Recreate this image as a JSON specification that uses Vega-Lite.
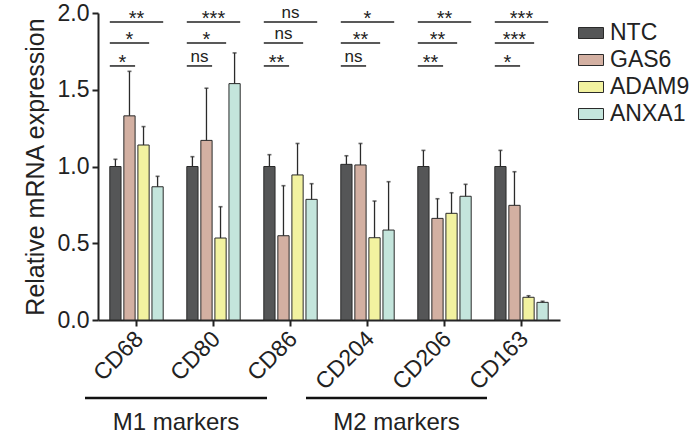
{
  "$schema": "https://vega.github.io/schema/vega-lite/v6.json",
  "autosize": "none",
  "width": 462,
  "height": 307,
  "padding": {"left": 98, "top": 13, "right": 131, "bottom": 121},
  "background": "white",
  "config": {
    "view": {"stroke": null},
    "font": "Liberation Sans",
    "axis": {"grid": false, "domainColor": "#222", "tickColor": "#222", "labelColor": "#222", "titleColor": "#222", "labelFont": "Liberation Sans", "titleFont": "Liberation Sans", "titleFontWeight": "normal"},
    "legend": {"labelFont": "Liberation Sans"}
  },
  "datasets": {
    "bars": [
      {"marker": "CD68", "group": "NTC", "mean": 1.0, "upper": 1.047},
      {"marker": "CD68", "group": "GAS6", "mean": 1.33, "upper": 1.62},
      {"marker": "CD68", "group": "ADAM9", "mean": 1.14, "upper": 1.26},
      {"marker": "CD68", "group": "ANXA1", "mean": 0.868, "upper": 0.936},
      {"marker": "CD80", "group": "NTC", "mean": 1.0, "upper": 1.064},
      {"marker": "CD80", "group": "GAS6", "mean": 1.17, "upper": 1.51},
      {"marker": "CD80", "group": "ADAM9", "mean": 0.534, "upper": 0.738},
      {"marker": "CD80", "group": "ANXA1", "mean": 1.54, "upper": 1.74},
      {"marker": "CD86", "group": "NTC", "mean": 1.0, "upper": 1.077},
      {"marker": "CD86", "group": "GAS6", "mean": 0.549, "upper": 0.875},
      {"marker": "CD86", "group": "ADAM9", "mean": 0.945, "upper": 1.15},
      {"marker": "CD86", "group": "ANXA1", "mean": 0.786, "upper": 0.888},
      {"marker": "CD204", "group": "NTC", "mean": 1.014, "upper": 1.07},
      {"marker": "CD204", "group": "GAS6", "mean": 1.01, "upper": 1.15},
      {"marker": "CD204", "group": "ADAM9", "mean": 0.536, "upper": 0.775},
      {"marker": "CD204", "group": "ANXA1", "mean": 0.586, "upper": 0.901},
      {"marker": "CD206", "group": "NTC", "mean": 1.0, "upper": 1.105},
      {"marker": "CD206", "group": "GAS6", "mean": 0.662, "upper": 0.79},
      {"marker": "CD206", "group": "ADAM9", "mean": 0.695, "upper": 0.829},
      {"marker": "CD206", "group": "ANXA1", "mean": 0.806, "upper": 0.884},
      {"marker": "CD163", "group": "NTC", "mean": 1.0, "upper": 1.105},
      {"marker": "CD163", "group": "GAS6", "mean": 0.747, "upper": 0.966},
      {"marker": "CD163", "group": "ADAM9", "mean": 0.148, "upper": 0.158},
      {"marker": "CD163", "group": "ANXA1", "mean": 0.115, "upper": 0.122}
    ],
    "sig": [
      {"marker": "CD68", "vs": "ANXA1", "label": "**"},
      {"marker": "CD68", "vs": "ADAM9", "label": "*"},
      {"marker": "CD68", "vs": "GAS6", "label": "*"},
      {"marker": "CD80", "vs": "ANXA1", "label": "***"},
      {"marker": "CD80", "vs": "ADAM9", "label": "*"},
      {"marker": "CD80", "vs": "GAS6", "label": "ns"},
      {"marker": "CD86", "vs": "ANXA1", "label": "ns"},
      {"marker": "CD86", "vs": "ADAM9", "label": "ns"},
      {"marker": "CD86", "vs": "GAS6", "label": "**"},
      {"marker": "CD204", "vs": "ANXA1", "label": "*"},
      {"marker": "CD204", "vs": "ADAM9", "label": "**"},
      {"marker": "CD204", "vs": "GAS6", "label": "ns"},
      {"marker": "CD206", "vs": "ANXA1", "label": "**"},
      {"marker": "CD206", "vs": "ADAM9", "label": "**"},
      {"marker": "CD206", "vs": "GAS6", "label": "**"},
      {"marker": "CD163", "vs": "ANXA1", "label": "***"},
      {"marker": "CD163", "vs": "ADAM9", "label": "***"},
      {"marker": "CD163", "vs": "GAS6", "label": "*"}
    ],
    "groups": [
      {"name": "M1 markers", "from": "CD68", "to": "CD86"},
      {"name": "M2 markers", "from": "CD204", "to": "CD206"}
    ]
  },
  "encoding": {
    "x": {
      "field": "marker", "type": "nominal", "sort": ["CD68", "CD80", "CD86", "CD204", "CD206", "CD163"],
      "scale": {"domain": ["CD68", "CD80", "CD86", "CD204", "CD206", "CD163"], "paddingInner": 0.27, "paddingOuter": 0.135},
      "axis": {"title": null, "labelAngle": -45, "labelAlign": "right", "labelBaseline": "middle", "labelFontSize": 23, "labelPadding": 9, "labelOffset": 3, "tickSize": 6, "tickWidth": 2, "domainWidth": 2}
    }
  },
  "layer": [
    {
      "data": {"name": "bars"},
      "mark": {"type": "bar", "stroke": "#2a2a2a", "strokeWidth": 1},
      "encoding": {
        "xOffset": {"field": "group", "type": "nominal", "sort": ["NTC", "GAS6", "ADAM9", "ANXA1"], "scale": {"domain": ["NTC", "GAS6", "ADAM9", "ANXA1"], "paddingInner": 0.2, "paddingOuter": 0.1}},
        "y": {"field": "mean", "type": "quantitative", "scale": {"domain": [0, 2], "nice": false},
          "axis": {"title": "Relative mRNA expression", "titleFontSize": 25, "titlePadding": 9, "values": [0, 0.5, 1, 1.5, 2], "format": ".1f", "labelFontSize": 23, "labelPadding": 3, "tickSize": 6, "tickWidth": 2, "domainWidth": 2}},
        "fill": {"field": "group", "type": "nominal", "sort": ["NTC", "GAS6", "ADAM9", "ANXA1"],
          "scale": {"domain": ["NTC", "GAS6", "ADAM9", "ANXA1"], "range": ["#555657", "#d3b0a2", "#f2f2a0", "#c4e5dc"]},
          "legend": {"title": null, "orient": "none", "legendX": 480, "legendY": 7, "padding": 0, "labelFontSize": 23, "labelColor": "#222", "labelOffset": 6, "rowPadding": 2, "symbolType": "M-1,-0.44H1V0.44H-1Z", "symbolSize": 625, "symbolStrokeColor": "#2a2a2a", "symbolStrokeWidth": 1}}
      }
    },
    {
      "data": {"name": "bars"},
      "mark": {"type": "rule", "stroke": "#2a2a2a", "strokeWidth": 1.3},
      "encoding": {
        "xOffset": {"field": "group", "type": "nominal", "sort": ["NTC", "GAS6", "ADAM9", "ANXA1"]},
        "y": {"field": "mean", "type": "quantitative"},
        "y2": {"field": "upper"}
      }
    },
    {
      "data": {"name": "bars"},
      "mark": {"type": "tick", "color": "#2a2a2a", "size": 4, "thickness": 1.6, "orient": "horizontal"},
      "encoding": {
        "xOffset": {"field": "group", "type": "nominal", "sort": ["NTC", "GAS6", "ADAM9", "ANXA1"]},
        "y": {"field": "upper", "type": "quantitative"}
      }
    },
    {
      "data": {"name": "sig"},
      "transform": [{"filter": "datum.vs === 'ANXA1'"}],
      "layer": [
        {"mark": {"type": "rule", "stroke": "#222", "strokeWidth": 1.5},
         "encoding": {"x": {"field": "marker", "type": "nominal", "bandPosition": 0.025}, "x2": {"field": "marker", "bandPosition": 0.975}, "y": {"datum": 1.941}}},
        {"transform": [{"filter": "datum.label === 'ns'"}],
         "mark": {"type": "text", "fontSize": 17, "color": "#222", "baseline": "alphabetic", "dy": -4},
         "encoding": {"x": {"field": "marker", "type": "nominal", "bandPosition": 0.5}, "y": {"datum": 1.941}, "text": {"field": "label"}}},
        {"transform": [{"filter": "datum.label !== 'ns'"}],
         "mark": {"type": "text", "fontSize": 20, "color": "#222", "baseline": "alphabetic", "dy": 3},
         "encoding": {"x": {"field": "marker", "type": "nominal", "bandPosition": 0.5}, "y": {"datum": 1.941}, "text": {"field": "label"}}}
      ]
    },
    {
      "data": {"name": "sig"},
      "transform": [{"filter": "datum.vs === 'ADAM9'"}],
      "layer": [
        {"mark": {"type": "rule", "stroke": "#222", "strokeWidth": 1.5},
         "encoding": {"x": {"field": "marker", "type": "nominal", "bandPosition": 0.025}, "x2": {"field": "marker", "bandPosition": 0.725}, "y": {"datum": 1.805}}},
        {"transform": [{"filter": "datum.label === 'ns'"}],
         "mark": {"type": "text", "fontSize": 17, "color": "#222", "baseline": "alphabetic", "dy": -4},
         "encoding": {"x": {"field": "marker", "type": "nominal", "bandPosition": 0.375}, "y": {"datum": 1.805}, "text": {"field": "label"}}},
        {"transform": [{"filter": "datum.label !== 'ns'"}],
         "mark": {"type": "text", "fontSize": 20, "color": "#222", "baseline": "alphabetic", "dy": 3},
         "encoding": {"x": {"field": "marker", "type": "nominal", "bandPosition": 0.375}, "y": {"datum": 1.805}, "text": {"field": "label"}}}
      ]
    },
    {
      "data": {"name": "sig"},
      "transform": [{"filter": "datum.vs === 'GAS6'"}],
      "layer": [
        {"mark": {"type": "rule", "stroke": "#222", "strokeWidth": 1.5},
         "encoding": {"x": {"field": "marker", "type": "nominal", "bandPosition": 0.025}, "x2": {"field": "marker", "bandPosition": 0.475}, "y": {"datum": 1.655}}},
        {"transform": [{"filter": "datum.label === 'ns'"}],
         "mark": {"type": "text", "fontSize": 17, "color": "#222", "baseline": "alphabetic", "dy": -4},
         "encoding": {"x": {"field": "marker", "type": "nominal", "bandPosition": 0.25}, "y": {"datum": 1.655}, "text": {"field": "label"}}},
        {"transform": [{"filter": "datum.label !== 'ns'"}],
         "mark": {"type": "text", "fontSize": 20, "color": "#222", "baseline": "alphabetic", "dy": 3},
         "encoding": {"x": {"field": "marker", "type": "nominal", "bandPosition": 0.25}, "y": {"datum": 1.655}, "text": {"field": "label"}}}
      ]
    },
    {
      "data": {"name": "groups"},
      "transform": [{"filter": "datum.name === 'M1 markers'"}],
      "layer": [
        {"mark": {"type": "rule", "stroke": "#111", "strokeWidth": 2.5},
         "encoding": {"x": {"field": "from", "type": "nominal", "bandPosition": -0.416}, "x2": {"field": "to", "bandPosition": 0.082}, "y": {"datum": -0.508}}},
        {"mark": {"type": "text", "fontSize": 24, "color": "#222", "baseline": "middle"},
         "encoding": {"x": {"field": "from", "type": "nominal", "bandPosition": 1.203}, "y": {"datum": -0.67}, "text": {"field": "name"}}}
      ]
    },
    {
      "data": {"name": "groups"},
      "transform": [{"filter": "datum.name === 'M2 markers'"}],
      "layer": [
        {"mark": {"type": "rule", "stroke": "#111", "strokeWidth": 2.5},
         "encoding": {"x": {"field": "from", "type": "nominal", "bandPosition": -0.594}, "x2": {"field": "to", "bandPosition": 1.256}, "y": {"datum": -0.508}}},
        {"mark": {"type": "text", "fontSize": 24, "color": "#222", "baseline": "middle"},
         "encoding": {"x": {"field": "from", "type": "nominal", "bandPosition": 1.016}, "y": {"datum": -0.67}, "text": {"field": "name"}}}
      ]
    }
  ]
}
